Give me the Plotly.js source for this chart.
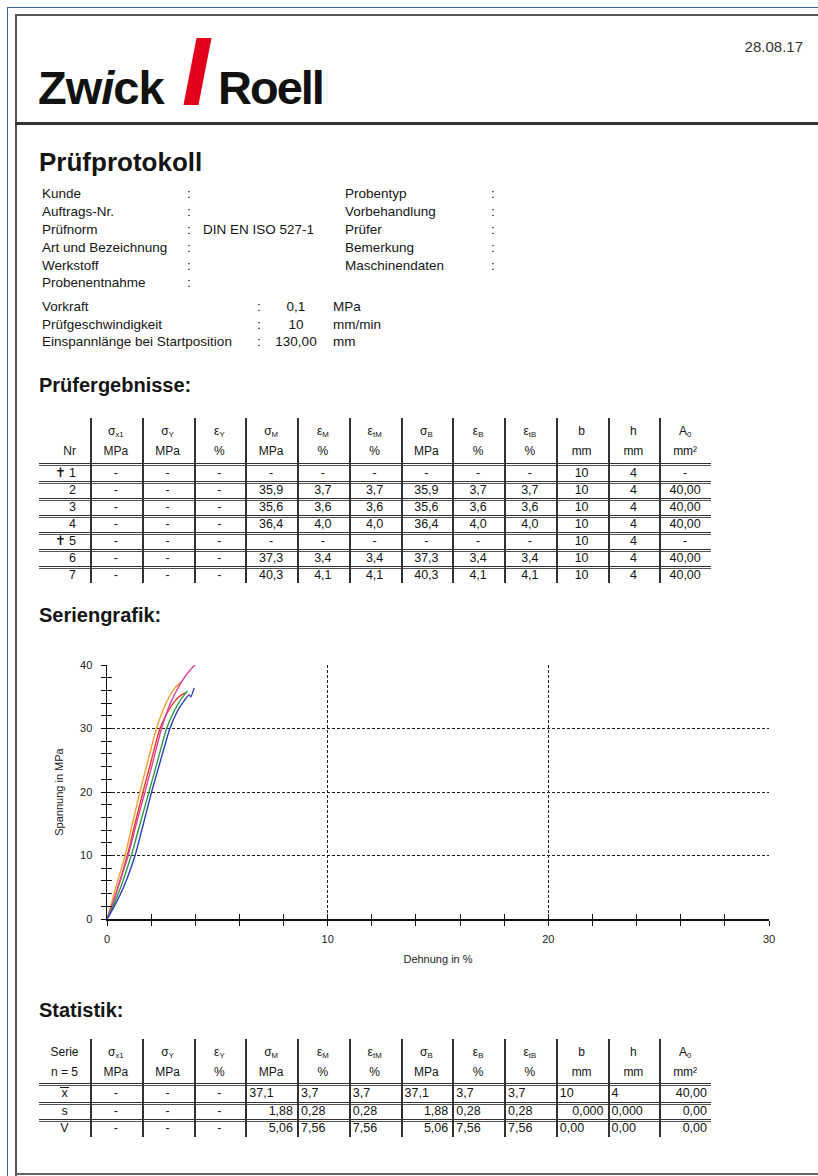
<!DOCTYPE html>
<html><head><meta charset="utf-8">
<script src="https://cdn.plot.ly/plotly-3.0.1.min.js"></script>
<style>
body{margin:0;background:#fff;font-family:"Liberation Sans",Arial,sans-serif;color:#151515;}
#page{position:relative;width:818px;height:1176px;overflow:hidden;background:#fff;}
.t{position:absolute;white-space:nowrap;}
.ln{position:absolute;}
sub{font-size:65%;vertical-align:-0.25em;line-height:0;}
.ov{display:inline-block;border-top:1.2px solid #151515;line-height:10px;padding:0 1px;}
#chart{position:absolute;left:0;top:640px;width:818px;height:340px;}
</style></head>
<body><div id="page"><div id="chart"></div></div>
<script>
// ---------------- data ----------------
const reportDate = '28.08.17';
const infoLeftLabels = ['Kunde','Auftrags-Nr.','Prüfnorm','Art und Bezeichnung','Werkstoff','Probenentnahme'];
const infoLeftValues = ['','','DIN EN ISO 527-1','','',''];
const infoRightLabels = ['Probentyp','Vorbehandlung','Prüfer','Bemerkung','Maschinendaten'];
const paramLabels = ['Vorkraft','Prüfgeschwindigkeit','Einspannlänge bei Startposition'];
const paramValues = ['0,1','10','130,00'];
const paramUnits = ['MPa','mm/min','mm'];

const colSymbols = ['σ','σ','ε','σ','ε','ε','σ','ε','ε','b','h','A'];
const colSubs    = ['x1','Y','Y','M','M','tM','B','B','tB','','','0'];
const colUnits   = ['MPa','MPa','%','MPa','%','%','MPa','%','%','mm','mm','mm²'];

const specimenNr = ['✝ 1','2','3','4','✝ 5','6','7'];
const sigmaX1_res = [null,null,null,null,null,null,null];
const sigmaY_res  = [null,null,null,null,null,null,null];
const epsY_res    = [null,null,null,null,null,null,null];
const sigmaM_res  = [null,35.9,35.6,36.4,null,37.3,40.3];
const epsM_res    = [null,3.7,3.6,4.0,null,3.4,4.1];
const epstM_res   = [null,3.7,3.6,4.0,null,3.4,4.1];
const sigmaB_res  = [null,35.9,35.6,36.4,null,37.3,40.3];
const epsB_res    = [null,3.7,3.6,4.0,null,3.4,4.1];
const epstB_res   = [null,3.7,3.6,4.0,null,3.4,4.1];
const b_res       = [10,10,10,10,10,10,10];
const h_res       = [4,4,4,4,4,4,4];
const A0_res      = [null,40.00,40.00,40.00,null,40.00,40.00];

const statLabels = ['x','s','V'];
const statMean = ['-','-','-','37,1','3,7','3,7','37,1','3,7','3,7','10','4','40,00'];
const statSd   = ['-','-','-','1,88','0,28','0,28','1,88','0,28','0,28','0,000','0,000','0,00'];
const statCv   = ['-','-','-','5,06','7,56','7,56','5,06','7,56','7,56','0,00','0,00','0,00'];

// stress-strain curves (Dehnung in %, Spannung in MPa)
const strain_T2 = [0,0.25,0.62,1.1,1.5,1.9,2.3,2.7,3.05,3.35,3.55,3.65];
const stress_T2 = [0,1.8,5,10,15,20,25,30,32.8,34.6,35.5,35.9];
const strain_T3 = [0,0.2,0.5,0.92,1.27,1.63,2.01,2.4,2.75,3.05,3.3,3.55];
const stress_T3 = [0,1.8,5,10,15,20,25,30,32.6,34.2,35.1,35.6];
const strain_T4 = [0,0.3,0.75,1.27,1.65,2.02,2.43,2.85,3.2,3.5,3.72,3.8,3.95];
const stress_T4 = [0,1.8,5,10,15,20,25,30,32.8,34.4,35.3,35.0,36.4];
const strain_T6 = [0,0.15,0.4,0.82,1.15,1.49,1.86,2.24,2.55,2.85,3.1,3.35];
const stress_T6 = [0,1.8,5,10,15,20,25,30,33,35.2,36.5,37.3];
const strain_T7 = [0,0.2,0.5,0.96,1.33,1.72,2.1,2.47,2.85,3.25,3.65,4.05];
const stress_T7 = [0,1.8,5,10,15,20,25,30,33.8,36.6,38.7,40.3];

// ---------------- helpers ----------------
const page = document.getElementById('page');
function txt(html, x, cy, size, o) {
  o = o || {};
  const d = document.createElement('div');
  d.className = 't';
  d.innerHTML = html;
  d.style.fontSize = size + 'px';
  d.style.lineHeight = (size * 1.2) + 'px';
  d.style.top = (cy - size * 0.6) + 'px';
  if (o.bold) d.style.fontWeight = 'bold';
  if (o.color) d.style.color = o.color;
  if (o.ls) d.style.letterSpacing = o.ls;
  if (o.w !== undefined) {
    d.style.left = x + 'px'; d.style.width = o.w + 'px';
    d.style.textAlign = o.align || 'center';
    d.style.boxSizing = 'border-box';
    d.style.padding = '0 ' + (o.pad || 0) + 'px';
  } else if (o.align === 'right') {
    d.style.right = (818 - x) + 'px'; d.style.textAlign = 'right';
  } else if (o.align === 'center') {
    d.style.left = (x - 100) + 'px'; d.style.width = '200px'; d.style.textAlign = 'center';
  } else {
    d.style.left = x + 'px';
  }
  page.appendChild(d);
  return d;
}
function line(x, y, w, h, color) {
  const d = document.createElement('div');
  d.className = 'ln';
  d.style.left = x + 'px'; d.style.top = y + 'px';
  d.style.width = w + 'px'; d.style.height = h + 'px';
  d.style.background = color;
  page.appendChild(d);
}
function fmt(v, dec) {
  if (v === null || v === undefined) return '-';
  return v.toFixed(dec).replace('.', ',');
}

// ---------------- page frame ----------------
line(7, 7, 811, 1, '#3a63a8');
line(7, 7, 1, 1169, '#3a63a8');
line(15, 14, 803, 2, '#555');
line(15, 14, 2, 1162, '#555');
line(15, 122, 803, 3, '#333');
line(15, 1173, 803, 2, '#666');

// logo
txt('Zw<span style="font-style:italic">i</span>ck', 38, 88, 47, {bold: true, ls: '-1px', color: '#111'});
const slash = document.createElement('div');
slash.style.cssText = 'position:absolute;left:190px;top:38px;width:15px;height:67px;background:#e3001b;transform:skewX(-11deg);';
page.appendChild(slash);
txt('Roell', 218, 88, 47, {bold: true, ls: '-2px', color: '#111'});
txt(reportDate, 803, 47, 15, {align: 'right', color: '#333'});

// Prüfprotokoll
txt('Prüfprotokoll', 39, 163, 26, {bold: true});
const infoY = [194, 212, 230, 248, 266, 283];
infoLeftLabels.forEach((s, i) => {
  txt(s, 42, infoY[i], 13.5);
  txt(':', 187, infoY[i], 13.5);
  if (infoLeftValues[i]) txt(infoLeftValues[i], 203, infoY[i], 13.5);
});
infoRightLabels.forEach((s, i) => {
  txt(s, 345, infoY[i], 13.5);
  txt(':', 491, infoY[i], 13.5);
});
const paramY = [307, 325, 342];
paramLabels.forEach((s, i) => {
  txt(s, 42, paramY[i], 13.5);
  txt(':', 257, paramY[i], 13.5);
  txt(paramValues[i], 296, paramY[i], 13.5, {align: 'center'});
  txt(paramUnits[i], 333, paramY[i], 13.5);
});

// ---------------- tables ----------------
const tabLeft = 39, col0W = 51, colStart = 90, colW = 51.75, tabRight = 711;
function colX(k) { return colStart + k * colW; }
function header(top) {
  colSymbols.forEach((s, k) => {
    txt(s + (colSubs[k] ? '<sub>' + colSubs[k] + '</sub>' : ''), colX(k), top + 13, 12, {w: colW});
    txt(colUnits[k], colX(k), top + 33, 12, {w: colW});
  });
}
function dbl(y) { line(tabLeft, y, tabRight - tabLeft, 1, '#333'); line(tabLeft, y + 2, tabRight - tabLeft, 1, '#555'); }

// Prüfergebnisse
txt('Prüfergebnisse:', 39, 385, 20, {bold: true});
const rTop = 418, rHead = 45, rRow = 17;
header(rTop);
txt('Nr', tabLeft, rTop + 33, 12, {w: col0W, align: 'right', pad: 14});
dbl(rTop + rHead);
const resCols = [sigmaX1_res, sigmaY_res, epsY_res, sigmaM_res, epsM_res, epstM_res, sigmaB_res, epsB_res, epstB_res, b_res, h_res, A0_res];
const resDec = [1, 1, 1, 1, 1, 1, 1, 1, 1, 0, 0, 2];
specimenNr.forEach((nr, i) => {
  const y0 = rTop + rHead + 1 + i * rRow;
  const cy = y0 + rRow / 2 + 1;
  txt(nr, tabLeft, cy, 12.5, {w: col0W, align: 'right', pad: 14});
  resCols.forEach((col, k) => {
    txt(fmt(col[i], resDec[k]), colX(k), cy, 12.5, {w: colW});
  });
  if (i < specimenNr.length - 1) dbl(y0 + rRow);
});
const rBottom = rTop + rHead + 1 + specimenNr.length * rRow;
for (let k = 0; k < 12; k++) line(Math.round(colX(k)), rTop, 1.5, rBottom - rTop, '#333');

// Seriengrafik heading
txt('Seriengrafik:', 39, 615, 20, {bold: true});

// Statistik
txt('Statistik:', 39, 1010, 20, {bold: true});
const sTop = 1039, sHead = 44, sRow = 17.5;
header(sTop);
txt('Serie', tabLeft, sTop + 13, 12, {w: col0W});
txt('n = 5', tabLeft, sTop + 33, 12, {w: col0W});
dbl(sTop + sHead);
const statRows = [statMean, statSd, statCv];
const alignMean = ['center','center','center','left','left','left','left','left','left','left','left','right'];
const alignSd   = ['center','center','center','right','left','left','right','left','left','right','left','right'];
const alignCv   = ['center','center','center','right','left','left','right','left','left','left','left','right'];
const statAlign = [alignMean, alignSd, alignCv];
statRows.forEach((row, i) => {
  const y0 = sTop + sHead + 1 + i * sRow;
  const cy = y0 + sRow / 2 + 1;
  const lab = i === 0 ? '<span class="ov">' + statLabels[i] + '</span>' : statLabels[i];
  txt(lab, tabLeft, cy, 12.5, {w: col0W});
  row.forEach((v, k) => {
    const al = v === '-' ? 'center' : statAlign[i][k];
    txt(v, colX(k), cy, 12.5, {w: colW, align: al, pad: 4});
  });
  if (i < statRows.length - 1) dbl(y0 + sRow);
});
const sBottom = sTop + sHead + 1 + statRows.length * sRow;
for (let k = 0; k < 12; k++) line(Math.round(colX(k)), sTop, 1.5, sBottom - sTop, '#333');

// ---------------- chart ----------------
const curves = [
  {x: strain_T6, y: stress_T6, c: '#f0a030', n: '6'},
  {x: strain_T3, y: stress_T3, c: '#e23a2a', n: '3'},
  {x: strain_T7, y: stress_T7, c: '#d8459c', n: '7'},
  {x: strain_T2, y: stress_T2, c: '#2e9a45', n: '2'},
  {x: strain_T4, y: stress_T4, c: '#2a3fbf', n: '4'}
];
const traces = curves.map(cv => ({
  x: cv.x, y: cv.y, name: cv.n, type: 'scatter', mode: 'lines',
  line: {color: cv.c, width: 1.4, shape: 'spline', smoothing: 0.6},
  hoverinfo: 'skip', showlegend: false
}));
traces.push({x: [], y: [], xaxis: 'x2', yaxis: 'y2', type: 'scatter', mode: 'lines', showlegend: false, hoverinfo: 'skip'});

const tickFont = {family: '"Liberation Sans", Arial, sans-serif', size: 11, color: '#222'};
const layout = {
  width: 818, height: 340,
  margin: {l: 107, r: 49, t: 25, b: 61},
  paper_bgcolor: 'rgba(0,0,0,0)', plot_bgcolor: 'rgba(0,0,0,0)',
  showlegend: false,
  font: tickFont,
  xaxis: {
    range: [0, 30], tick0: 0, dtick: 10, fixedrange: true,
    showline: true, linecolor: '#111', linewidth: 1.5,
    ticks: 'outside', ticklen: 5, tickcolor: '#111', tickwidth: 1,
    minor: {dtick: 2, ticks: 'outside', ticklen: 5, tickcolor: '#111', tickwidth: 1, showgrid: false},
    showgrid: true, gridcolor: '#222', gridwidth: 1, griddash: '3px,2px',
    zeroline: false, tickfont: tickFont, ticklabelstandoff: 4,
    title: {text: 'Dehnung in %', font: tickFont, standoff: 11}
  },
  yaxis: {
    range: [0, 40], tick0: 0, dtick: 10, fixedrange: true,
    showline: true, linecolor: '#111', linewidth: 1.5,
    ticks: 'outside', ticklen: 5, tickcolor: '#111', tickwidth: 1,
    minor: {dtick: 2, ticks: 'outside', ticklen: 5, tickcolor: '#111', tickwidth: 1, showgrid: false},
    showgrid: true, gridcolor: '#222', gridwidth: 1, griddash: '3px,2px',
    zeroline: false, tickfont: tickFont, ticklabelstandoff: 6,
    title: {text: 'Spannung in MPa', font: tickFont, standoff: 14}
  },
  xaxis2: {
    overlaying: 'x', anchor: 'y', range: [0, 30], fixedrange: true,
    tick0: 0, dtick: 2, ticks: 'inside', ticklen: 5, tickcolor: '#111', tickwidth: 1,
    showticklabels: false, showgrid: false, zeroline: false, showline: false
  },
  yaxis2: {
    overlaying: 'y', anchor: 'x', side: 'left', range: [0, 40], fixedrange: true,
    tick0: 0, dtick: 2, ticks: 'inside', ticklen: 5, tickcolor: '#111', tickwidth: 1,
    showticklabels: false, showgrid: false, zeroline: false, showline: false
  }
};
Plotly.newPlot('chart', traces, layout, {staticPlot: true, displayModeBar: false});
</script>
</body></html>
